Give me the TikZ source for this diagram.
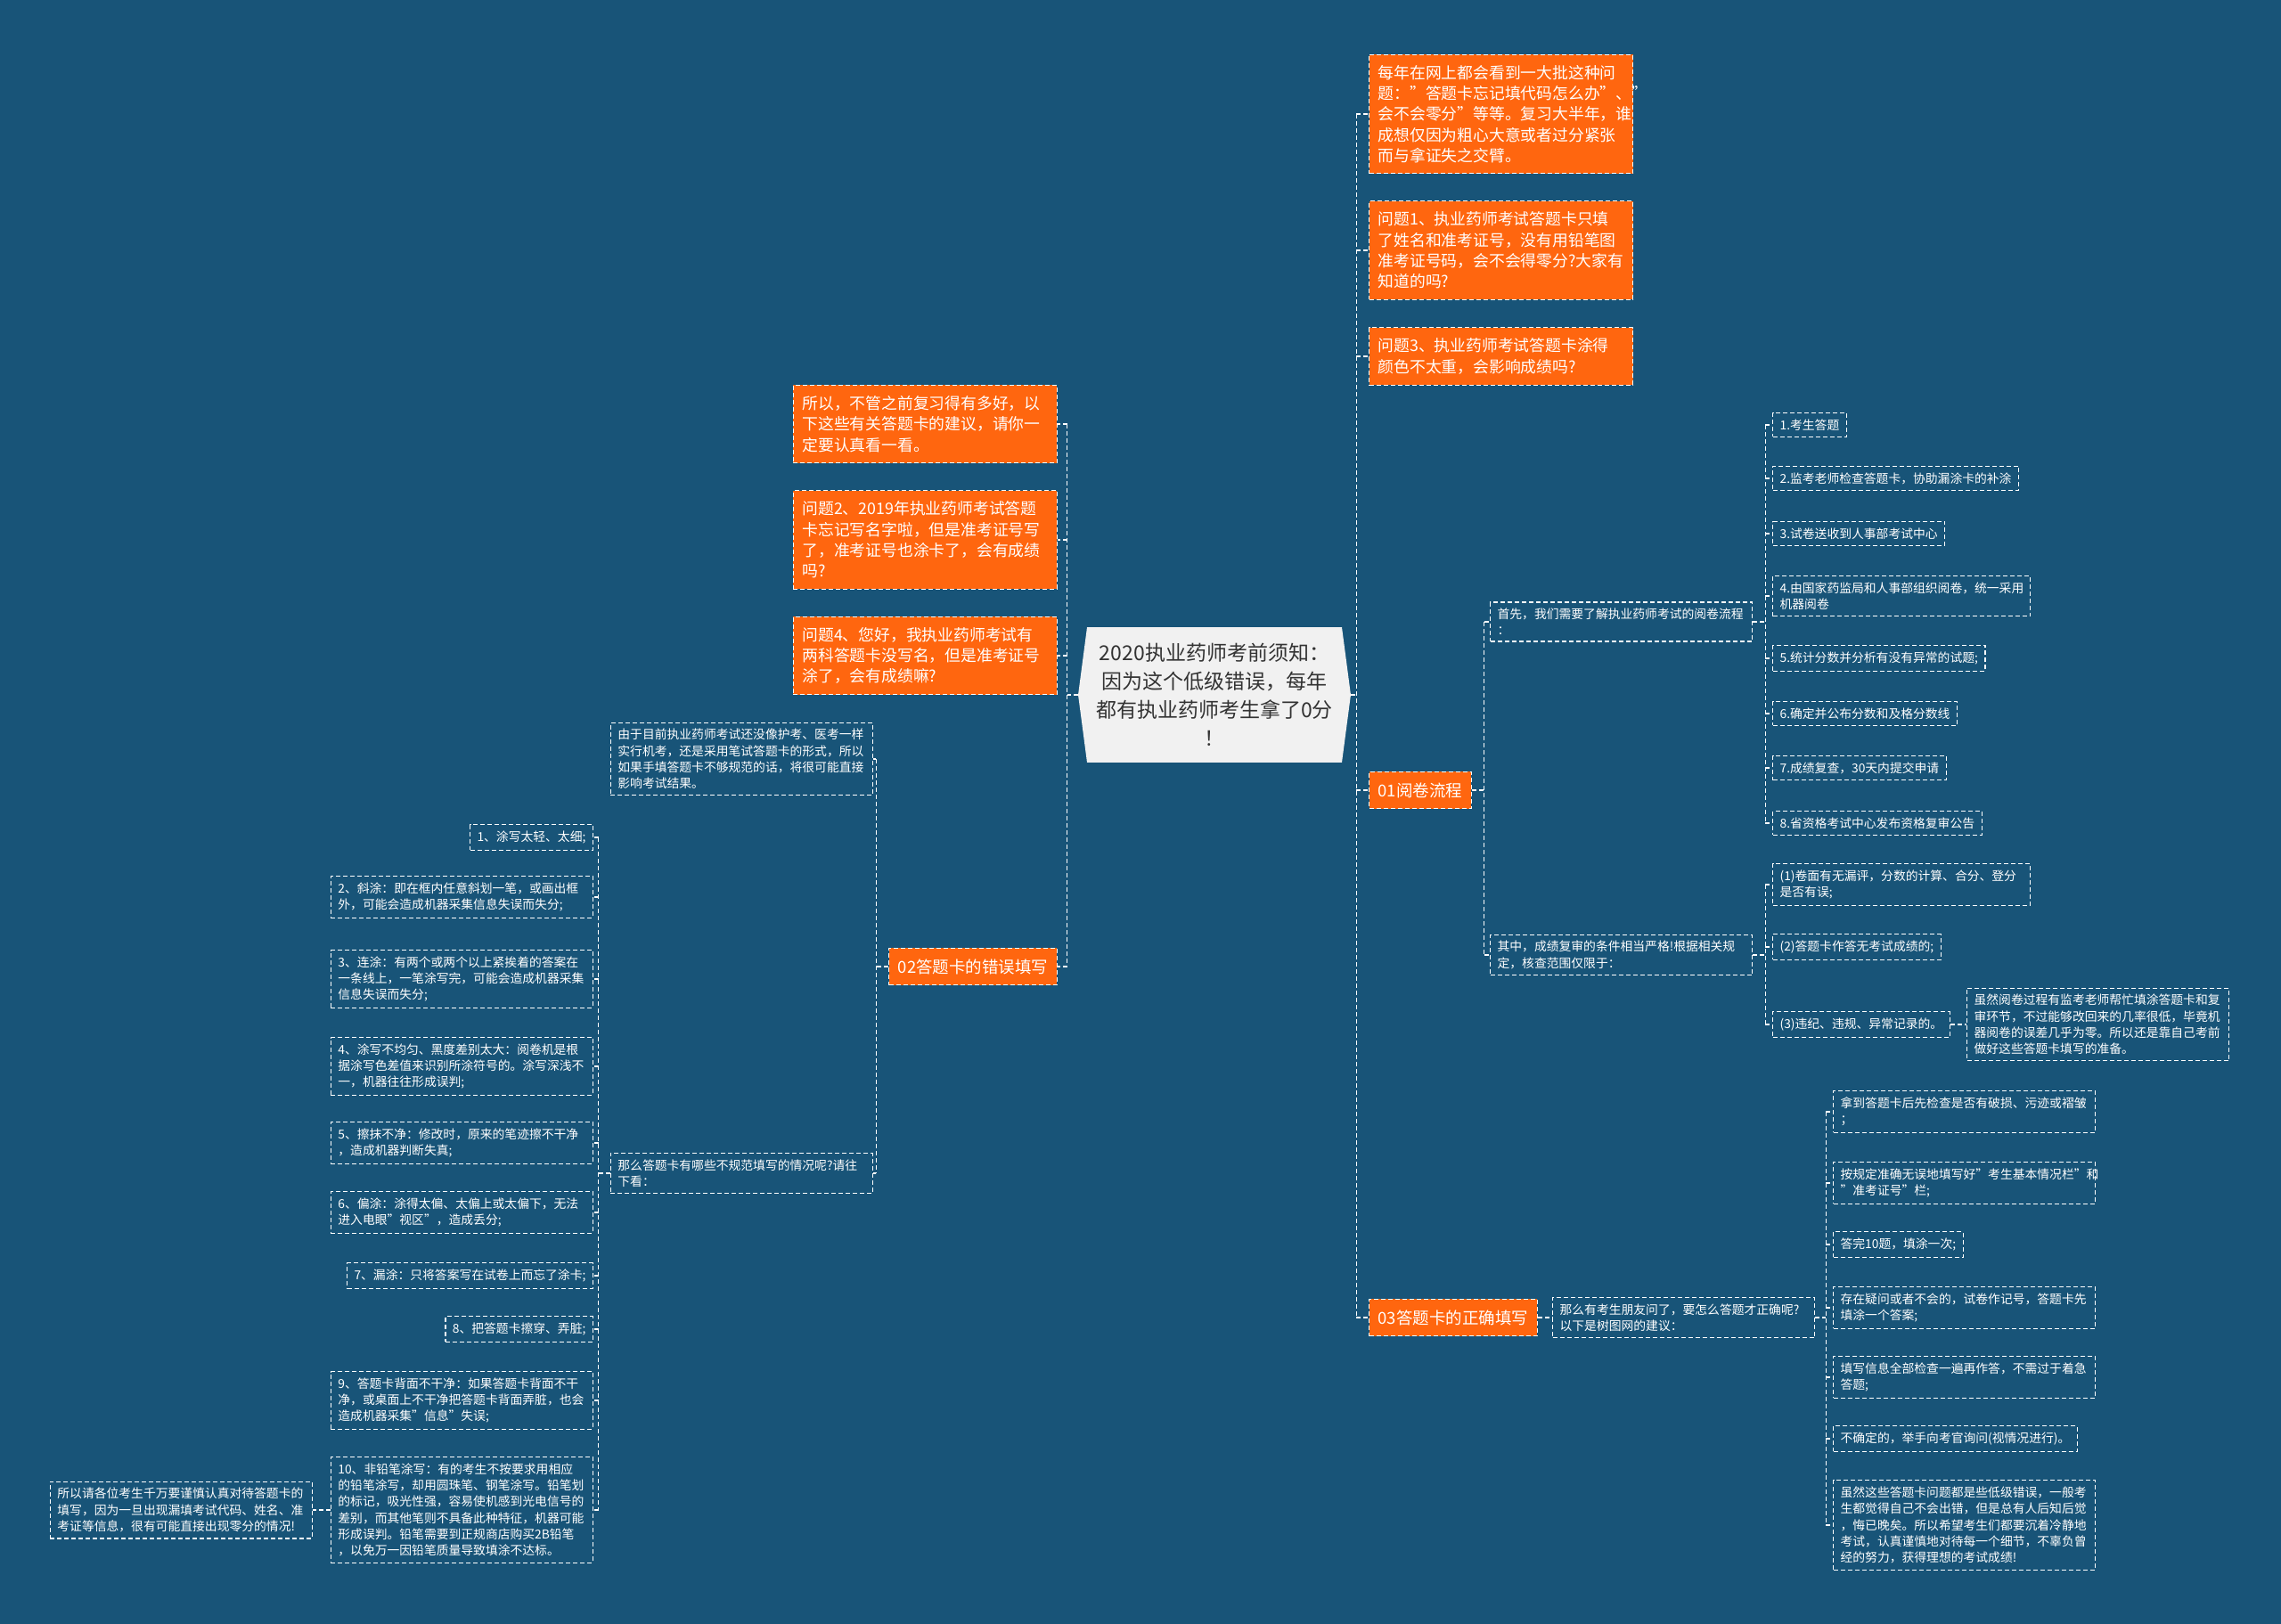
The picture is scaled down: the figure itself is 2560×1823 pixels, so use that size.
\documentclass[tikz,border=0pt]{standalone}
\usepackage{fontspec}
\setmainfont{Noto Sans CJK SC}
\usepackage{xcolor}
\usepackage{tikz}
\usetikzlibrary{shapes.symbols}

\definecolor{bgblue}{HTML}{185478}
\definecolor{tagorange}{HTML}{FF660F}
\definecolor{hubgray}{HTML}{F1F1F1}
\definecolor{hubtext}{HTML}{333333}

\tikzset{
  link/.style={draw=white, line width=1.2pt, dash pattern=on 5pt off 3pt},
  leaf/.style={draw=white, line width=1.2pt, dash pattern=on 5pt off 3pt, text=white,
    inner xsep=8pt, inner ysep=7pt, align=left, font=\fontsize{13.8}{18.3}\selectfont},
  tag/.style={leaf, fill=tagorange, inner xsep=10pt, inner ysep=12pt,
    font=\fontsize{17.8}{23.3}\selectfont},
  branch/.style={tag, align=center, font=\fontsize{18.5}{23.3}\selectfont},
  hub/.style={signal, signal to=west and east, signal pointer angle=165, fill=hubgray,
    text=hubtext, align=center, inner xsep=8pt, inner ysep=18pt,
    font=\fontsize{23}{32}\selectfont},
}

\begin{document}
\begin{tikzpicture}[x=1pt, y=-1pt]
  % 背景
  \fill[bgblue] (0,0) rectangle (2560,1823);
  \useasboundingbox (0,0) rectangle (2560,1823);
  % 中心主题
  \node[hub, text width=270pt] (ctr) at (1363,780) {2020执业药师考前须知：\\因为这个低级错误，每年\\都有执业药师考生拿了0分\\！};
  % 右侧一级
  \node[tag, text width=276pt, anchor=west] (r1) at (1536,128) {每年在网上都会看到一大批这种问\\题："答题卡忘记填代码怎么办"、"\\会不会零分"等等。复习大半年，谁\\成想仅因为粗心大意或者过分紧张\\而与拿证失之交臂。};
  \node[tag, text width=276pt, anchor=west] (r2) at (1536,281) {问题1、执业药师考试答题卡只填\\了姓名和准考证号，没有用铅笔图\\准考证号码，会不会得零分?大家有\\知道的吗?};
  \node[tag, text width=276pt, anchor=west] (r3) at (1536,400) {问题3、执业药师考试答题卡涂得\\颜色不太重，会影响成绩吗?};
  \node[branch, minimum width=110pt, anchor=west] (b01) at (1536,887) {01阅卷流程};
  \node[branch, minimum width=182pt, anchor=west] (b03) at (1536,1479) {03答题卡的正确填写};
  % 01阅卷流程
  \node[leaf, text width=278pt, anchor=west] (q1a) at (1672,698) {首先，我们需要了解执业药师考试的阅卷流程\\：};
  \node[leaf, text width=278pt, anchor=west] (q1b) at (1672,1072) {其中，成绩复审的条件相当严格!根据相关规\\定，核查范围仅限于：};
  \node[leaf, anchor=west] (s1) at (1989,477) {1.考生答题};
  \node[leaf, anchor=west] (s2) at (1989,537) {2.监考老师检查答题卡，协助漏涂卡的补涂};
  \node[leaf, anchor=west] (s3) at (1989,599) {3.试卷送收到人事部考试中心};
  \node[leaf, text width=273pt, anchor=west] (s4) at (1989,669) {4.由国家药监局和人事部组织阅卷，统一采用\\机器阅卷};
  \node[leaf, anchor=west] (s5) at (1989,739) {5.统计分数并分析有没有异常的试题;};
  \node[leaf, anchor=west] (s6) at (1989,801) {6.确定并公布分数和及格分数线};
  \node[leaf, anchor=west] (s7) at (1989,862) {7.成绩复查，30天内提交申请};
  \node[leaf, anchor=west] (s8) at (1989,924) {8.省资格考试中心发布资格复审公告};
  \node[leaf, text width=273pt, anchor=west] (c1) at (1989,993) {(1)卷面有无漏评，分数的计算、合分、登分\\是否有误;};
  \node[leaf, anchor=west] (c2) at (1989,1063) {(2)答题卡作答无考试成绩的;};
  \node[leaf, anchor=west] (c3) at (1989,1150) {(3)违纪、违规、异常记录的。};
  \node[leaf, text width=278pt, anchor=west] (c3n) at (2207,1150) {虽然阅卷过程有监考老师帮忙填涂答题卡和复\\审环节，不过能够改回来的几率很低，毕竟机\\器阅卷的误差几乎为零。所以还是靠自己考前\\做好这些答题卡填写的准备。};
  % 03答题卡的正确填写
  \node[leaf, text width=278pt, anchor=west] (q3) at (1742,1479) {那么有考生朋友问了，要怎么答题才正确呢?\\以下是树图网的建议：};
  \node[leaf, text width=278pt, anchor=west] (t1) at (2057,1248) {拿到答题卡后先检查是否有破损、污迹或褶皱\\；};
  \node[leaf, text width=278pt, anchor=west] (t2) at (2057,1328) {按规定准确无误地填写好"考生基本情况栏"和\\"准考证号"栏;};
  \node[leaf, anchor=west] (t3) at (2057,1397) {答完10题，填涂一次;};
  \node[leaf, text width=278pt, anchor=west] (t4) at (2057,1468) {存在疑问或者不会的，试卷作记号，答题卡先\\填涂一个答案;};
  \node[leaf, text width=278pt, anchor=west] (t5) at (2057,1546) {填写信息全部检查一遍再作答，不需过于着急\\答题;};
  \node[leaf, anchor=west] (t6) at (2057,1615) {不确定的，举手向考官询问(视情况进行)。};
  \node[leaf, text width=278pt, anchor=west] (t7) at (2057,1712) {虽然这些答题卡问题都是些低级错误，一般考\\生都觉得自己不会出错，但是总有人后知后觉\\，悔已晚矣。所以希望考生们都要沉着冷静地\\考试，认真谨慎地对待每一个细节，不辜负曾\\经的努力，获得理想的考试成绩!};
  % 左侧一级
  \node[tag, text width=276pt, anchor=east] (l1) at (1187,476) {所以，不管之前复习得有多好，以\\下这些有关答题卡的建议，请你一\\定要认真看一看。};
  \node[tag, text width=276pt, anchor=east] (l2) at (1187,606) {问题2、2019年执业药师考试答题\\卡忘记写名字啦，但是准考证号写\\了，准考证号也涂卡了，会有成绩\\吗?};
  \node[tag, text width=276pt, anchor=east] (l3) at (1187,736) {问题4、您好，我执业药师考试有\\两科答题卡没写名，但是准考证号\\涂了，会有成绩嘛?};
  \node[branch, minimum width=180pt, anchor=east] (b02) at (1187,1085) {02答题卡的错误填写};
  % 02答题卡的错误填写
  \node[leaf, text width=278pt, anchor=east] (q2a) at (980,852) {由于目前执业药师考试还没像护考、医考一样\\实行机考，还是采用笔试答题卡的形式，所以\\如果手填答题卡不够规范的话，将很可能直接\\影响考试结果。};
  \node[leaf, text width=278pt, anchor=east] (q2b) at (980,1317) {那么答题卡有哪些不规范填写的情况呢?请往\\下看：};
  \node[leaf, anchor=east] (e1) at (666,940) {1、涂写太轻、太细;};
  \node[leaf, text width=278pt, anchor=east] (e2) at (666,1007) {2、斜涂：即在框内任意斜划一笔，或画出框\\外，可能会造成机器采集信息失误而失分;};
  \node[leaf, text width=278pt, anchor=east] (e3) at (666,1099) {3、连涂：有两个或两个以上紧挨着的答案在\\一条线上，一笔涂写完，可能会造成机器采集\\信息失误而失分;};
  \node[leaf, text width=278pt, anchor=east] (e4) at (666,1197) {4、涂写不均匀、黑度差别太大：阅卷机是根\\据涂写色差值来识别所涂符号的。涂写深浅不\\一，机器往往形成误判;};
  \node[leaf, text width=278pt, anchor=east] (e5) at (666,1283) {5、擦抹不净：修改时，原来的笔迹擦不干净\\，造成机器判断失真;};
  \node[leaf, text width=278pt, anchor=east] (e6) at (666,1361) {6、偏涂：涂得太偏、太偏上或太偏下，无法\\进入电眼"视区"，造成丢分;};
  \node[leaf, anchor=east] (e7) at (666,1432) {7、漏涂：只将答案写在试卷上而忘了涂卡;};
  \node[leaf, anchor=east] (e8) at (666,1492) {8、把答题卡擦穿、弄脏;};
  \node[leaf, text width=278pt, anchor=east] (e9) at (666,1572) {9、答题卡背面不干净：如果答题卡背面不干\\净，或桌面上不干净把答题卡背面弄脏，也会\\造成机器采集"信息"失误;};
  \node[leaf, text width=278pt, anchor=east] (e10) at (666,1695) {10、非铅笔涂写：有的考生不按要求用相应\\的铅笔涂写，却用圆珠笔、钢笔涂写。铅笔划\\的标记，吸光性强，容易使机感到光电信号的\\差别，而其他笔则不具备此种特征，机器可能\\形成误判。铅笔需要到正规商店购买2B铅笔\\，以免万一因铅笔质量导致填涂不达标。};
  \node[leaf, text width=278pt, anchor=east] (e10n) at (351,1695) {所以请各位考生千万要谨慎认真对待答题卡的\\填写，因为一旦出现漏填考试代码、姓名、准\\考证等信息，很有可能直接出现零分的情况!};
  % 连线：右侧
  \coordinate (jr) at ([xshift=6pt]ctr.east);
  \draw[link] (ctr.east) -- (jr);
  \draw[link] (jr |- r1.west) -- (jr |- b03.west);
  \foreach \n in {r1,r2,r3,b01,b03} \draw[link] (jr |- \n.west) -- (\n.west);
  \coordinate (j1) at ([xshift=14pt]b01.east);
  \draw[link] (b01.east) -- (j1);
  \draw[link] (j1 |- q1a.west) -- (j1 |- q1b.west);
  \foreach \n in {q1a,q1b} \draw[link] (j1 |- \n.west) -- (\n.west);
  \coordinate (j1a) at ([xshift=14pt]q1a.east);
  \draw[link] (q1a.east) -- (j1a);
  \draw[link] (j1a |- s1.west) -- (j1a |- s8.west);
  \foreach \n in {s1,s2,s3,s4,s5,s6,s7,s8} \draw[link] (j1a |- \n.west) -- (\n.west);
  \coordinate (j1b) at ([xshift=14pt]q1b.east);
  \draw[link] (q1b.east) -- (j1b);
  \draw[link] (j1b |- c1.west) -- (j1b |- c3.west);
  \foreach \n in {c1,c2,c3} \draw[link] (j1b |- \n.west) -- (\n.west);
  \draw[link] (c3.east) -- (c3n.west);
  \draw[link] (b03.east) -- (q3.west);
  \coordinate (j3) at ([xshift=12pt]q3.east);
  \draw[link] (q3.east) -- (j3);
  \draw[link] (j3 |- t1.west) -- (j3 |- t7.west);
  \foreach \n in {t1,t2,t3,t4,t5,t6,t7} \draw[link] (j3 |- \n.west) -- (\n.west);
  % 连线：左侧
  \coordinate (jl) at ([xshift=-12pt]ctr.west);
  \draw[link] (ctr.west) -- (jl);
  \draw[link] (jl |- l1.east) -- (jl |- b02.east);
  \foreach \n in {l1,l2,l3,b02} \draw[link] (jl |- \n.east) -- (\n.east);
  \coordinate (j2) at ([xshift=-14pt]b02.west);
  \draw[link] (b02.west) -- (j2);
  \draw[link] (j2 |- q2a.east) -- (j2 |- q2b.east);
  \foreach \n in {q2a,q2b} \draw[link] (j2 |- \n.east) -- (\n.east);
  \coordinate (j2b) at ([xshift=-13pt]q2b.west);
  \draw[link] (q2b.west) -- (j2b);
  \draw[link] (j2b |- e1.east) -- (j2b |- e10.east);
  \foreach \n in {e1,e2,e3,e4,e5,e6,e7,e8,e9,e10} \draw[link] (j2b |- \n.east) -- (\n.east);
  \draw[link] (e10.west) -- (e10n.east);
\end{tikzpicture}
\end{document}
